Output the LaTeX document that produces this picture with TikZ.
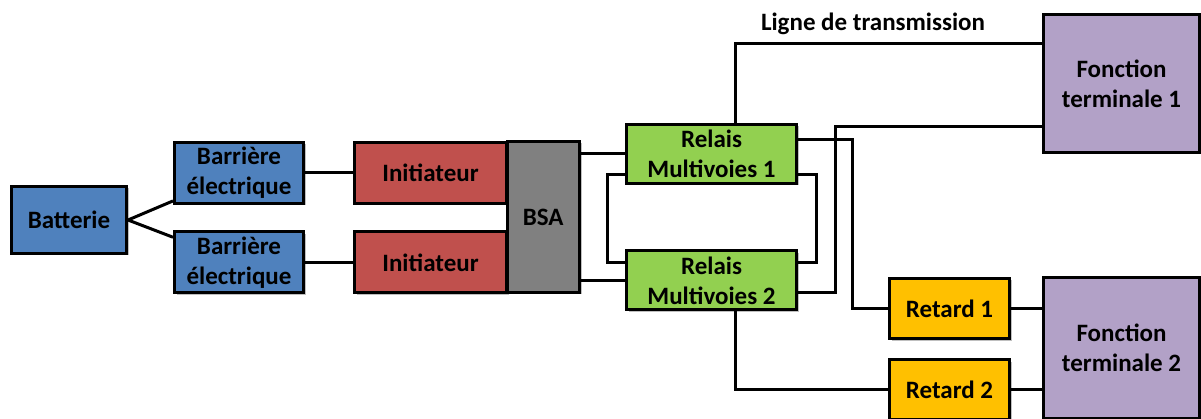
\documentclass[tikz,border=0pt]{standalone}
\usepackage{fontspec}
\setmainfont{Carlito}
\usetikzlibrary{positioning,shadows}
\definecolor{bleu}{RGB}{79,129,189}
\definecolor{rouge}{RGB}{192,80,77}
\definecolor{gris}{RGB}{128,128,128}
\definecolor{vert}{RGB}{146,208,80}
\definecolor{orange}{RGB}{255,192,0}
\definecolor{violet}{RGB}{178,161,199}
\begin{document}
\begin{tikzpicture}[x=1pt,y=-1pt,
		bloc/.style={draw=black, line width=3pt, inner sep=0pt, align=center,
			font=\bfseries\fontsize{25}{30}\selectfont,
			drop shadow={shadow xshift=2pt, shadow yshift=-2pt, fill=black, opacity=0.25}},
		batt/.style={bloc, fill=bleu, minimum width=115pt, minimum height=67pt},
		barr/.style={bloc, fill=bleu, minimum width=129pt, minimum height=61pt},
		init/.style={bloc, fill=rouge, minimum width=152pt, minimum height=61pt},
		bsa/.style={bloc, fill=gris, minimum width=72.5pt, minimum height=151pt},
		relais/.style={bloc, fill=vert, minimum width=170pt, minimum height=59pt},
		retard/.style={bloc, fill=orange, minimum width=120pt, minimum height=60pt},
		fonction/.style={bloc, fill=violet, minimum width=156pt},
		fil/.style={line width=3pt}]
	\useasboundingbox (0,0) rectangle (1201,419);

	\node[batt] (batterie) at (69,220) {Batterie};
	\node[barr] (barr1) at (239,173) {Barrière\\électrique}
		edge [fil] (batterie.east);
	\node[barr] (barr2) at (239,262.5) {Barrière\\électrique}
		edge [fil] (batterie.east);
	\node[init] (init1) [right=48pt of barr1] {Initiateur}
		edge [fil] (barr1);
	\node[init] (init2) [right=48pt of barr2] {Initiateur}
		edge [fil] (barr2);
	\node[bsa] (bsa) at (543.25,217) {BSA};

	\node[relais] (relais1) at (711.5,154) {Relais\\Multivoies 1};
	\node[relais] (relais2) at (711.5,280.5) {Relais\\Multivoies 2};
	\node[fonction, minimum height=138pt] (fct1) at (1121.5,83.5) {Fonction\\terminale 1};
	\node[fonction, minimum height=141pt] (fct2) at (1121.5,348) {Fonction\\terminale 2};
	\node[retard] (retard1) at (949.5,308.5) {Retard 1}
		edge [fil] (retard1 -| fct2.west);
	\node[retard] (retard2) [below=18pt of retard1] {Retard 2}
		edge [fil] (retard2 -| fct2.west);
	\node[font=\bfseries\fontsize{25}{30}\selectfont] (ligne) at (873,24) {Ligne de transmission};

	% points de coude
	\coordinate (haut) at (735,44);
	\coordinate (bas) at (735,389);
	\coordinate (g1) at (607,175);
	\coordinate (g2) at (607,263);
	\coordinate (d1) at (816,175);
	\coordinate (d2) at (816,263);
	\coordinate (r1) at (852,140);
	\coordinate (r2) at (835,293);
	\coordinate (f1) at (835,127);

	\draw[fil] (relais1.west) -- (relais1.west -| bsa.east);
	\draw[fil] (relais2.west) -- (relais2.west -| bsa.east);
	\draw[fil] (g1 -| relais1.west) -- (g1) -- (g2) -- (g2 -| relais2.west);
	\draw[fil] (d1 -| relais1.east) -- (d1) -- (d2) -- (d2 -| relais2.east);
	\draw[fil] (relais1.north -| haut) -- (haut) -- (haut -| fct1.west);
	\draw[fil] (relais2.south -| bas) -- (bas) -- (bas -| retard2.west);
	\draw[fil] (r1 -| relais1.east) -- (r1) |- (retard1.west);
	\draw[fil] (r2 -| relais2.east) -- (r2) -- (f1) -- (f1 -| fct1.west);
\end{tikzpicture}
\end{document}
